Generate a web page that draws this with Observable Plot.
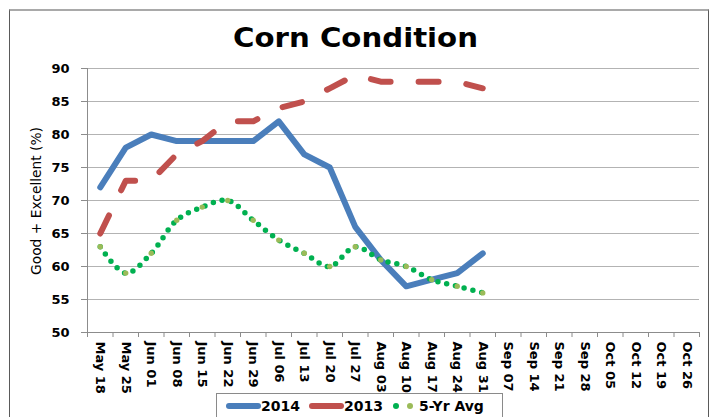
<!DOCTYPE html>
<html>
<head>
<meta charset="utf-8">
<script src="https://cdn.jsdelivr.net/npm/d3@7"></script>
<script src="https://cdn.jsdelivr.net/npm/@observablehq/plot@0.6"></script>
<style>
  html, body { margin: 0; padding: 0; background: #fff; }
  #wrap { position: relative; width: 714px; height: 417px; overflow: hidden; font-family: "DejaVu Sans", sans-serif; }
  #wrap > * { position: absolute; }
  #frame { left: 9px; top: 9px; width: 698px; height: 430px; border-top: 2px solid #a9a9a9; border-left: 1px solid #5a5a5a; border-right: 1px solid #5a5a5a; }
  #chart { left: 0; top: 0; }
  #overlay { left: 0; top: 0; pointer-events: none; }
  #legend { left: 216px; top: 393px; width: 285px; height: 40px; border: 1px solid #8a8a8a; background: #fff; }
</style>
</head>
<body>
<div id="wrap">
  <div id="frame"></div>
  <div id="chart"></div>
  <svg id="overlay" width="714" height="417">
    <text id="title" x="355.5" y="47" text-anchor="middle" textLength="245" lengthAdjust="spacingAndGlyphs"
          style="font-family:'DejaVu Sans';font-weight:bold;font-size:27px;fill:#000">Corn Condition</text>
    <text id="ylabel" transform="translate(40.5,201) rotate(-90)" text-anchor="middle" textLength="148" lengthAdjust="spacingAndGlyphs"
          style="font-family:'DejaVu Sans';font-size:13.5px;fill:#000">Good + Excellent (%)</text>
  </svg>
  <div id="legend"></div>
</div>
<script>
// ---- data ----
const categories = ["May 18","May 25","Jun 01","Jun 08","Jun 15","Jun 22","Jun 29","Jul 06","Jul 13","Jul 20","Jul 27","Aug 03","Aug 10","Aug 17","Aug 24","Aug 31","Sep 07","Sep 14","Sep 21","Sep 28","Oct 05","Oct 12","Oct 19","Oct 26"];
const values2014 = [72,78,80,79,79,79,79,82,77,75,66,61,57,58,59,62];
const values2013 = [65,73,73,77,79,82,82,84,85,87,89,88,88,88,88,87];
const valuesAvg  = [63,59,62,67,69,70,67,64,62,60,63,61,60,58,57,56];
const yTicks = [50,55,60,65,70,75,80,85,90];
const seriesNames = ["2014","2013","5-Yr Avg"];

// ---- build ----
const rows = (vals) => vals.map((v, i) => ({i: i + 0.5, v, cat: categories[i]}));
const r2014 = rows(values2014), r2013 = rows(values2013), rAvg = rows(valuesAvg);
const blue = "#4a7ebb", red = "#c0504d", green = "#00b050", olive = "#9bbb59";
const axisGray = "#8c8c8c";

const chart = Plot.plot({
  width: 714,
  height: 417,
  marginLeft: 87,
  marginRight: 15,
  marginTop: 68,
  marginBottom: 85,
  x: {domain: [0, categories.length], axis: null},
  y: {domain: [50, 90], axis: null},
  style: {fontFamily: "DejaVu Sans", fontWeight: "bold", fontSize: "13px", color: "#000", background: "transparent", overflow: "visible"},
  marks: [
    Plot.gridY(yTicks.filter(t => t > 50), {stroke: "#b3b3b3", strokeOpacity: 1}),
    Plot.axisY(yTicks, {tickSize: 6, tickPadding: 12, stroke: axisGray, label: null, fill: "#000"}),
    Plot.axisX(d3.range(categories.length + 1), {tickSize: 5, tickFormat: () => "", stroke: axisGray, label: null}),
    Plot.ruleY([50], {stroke: axisGray}),
    Plot.ruleX([0], {stroke: axisGray}),
    Plot.text(categories, {x: (d, i) => i + 0.5, frameAnchor: "bottom", rotate: 90, textAnchor: "start", lineAnchor: "middle", dy: 9, fill: "#000"}),
    Plot.line(r2014, {x: "i", y: "v", stroke: blue, strokeWidth: 6, strokeLinejoin: "round", strokeLinecap: "round"}),
    Plot.line(r2013, {x: "i", y: "v", stroke: red, strokeWidth: 6, strokeDasharray: "20,28", strokeLinecap: "round", strokeLinejoin: "round"}),
    Plot.line(rAvg, {x: "i", y: "v", stroke: green, strokeWidth: 5.5, strokeDasharray: "0,9", strokeLinecap: "round", curve: "catmull-rom"}),
    Plot.dot(rAvg, {x: "i", y: "v", r: 2.7, fill: olive})
  ]
});
document.getElementById("chart").appendChild(chart);

// ---- legend ----
const ns = "http://www.w3.org/2000/svg";
const lg = document.createElementNS(ns, "svg");
lg.setAttribute("width", 285); lg.setAttribute("height", 30);
lg.style.fontFamily = "DejaVu Sans"; lg.style.fontWeight = "bold"; lg.style.fontSize = "14px";
const el = (tag, attrs, text) => { const e = document.createElementNS(ns, tag); for (const k in attrs) e.setAttribute(k, attrs[k]); if (text) e.textContent = text; lg.appendChild(e); return e; };
const legendItems = [
  {name: seriesNames[0], type: "line", color: blue, sx: 12, tx: 44},
  {name: seriesNames[1], type: "line", color: red, sx: 95, tx: 127},
  {name: seriesNames[2], type: "dots", color: green, sx: 179, tx: 202}
];
for (const it of legendItems) {
  if (it.type === "line") {
    el("line", {x1: it.sx, x2: it.sx + 29, y1: 12, y2: 12, stroke: it.color, "stroke-width": 6, "stroke-linecap": "round"});
  } else {
    el("circle", {cx: it.sx, cy: 12, r: 3, fill: green});
    el("circle", {cx: it.sx + 14, cy: 12, r: 3, fill: olive});
  }
  el("text", {x: it.tx, y: 17}, it.name);
}
document.getElementById("legend").appendChild(lg);
</script>
</body>
</html>
